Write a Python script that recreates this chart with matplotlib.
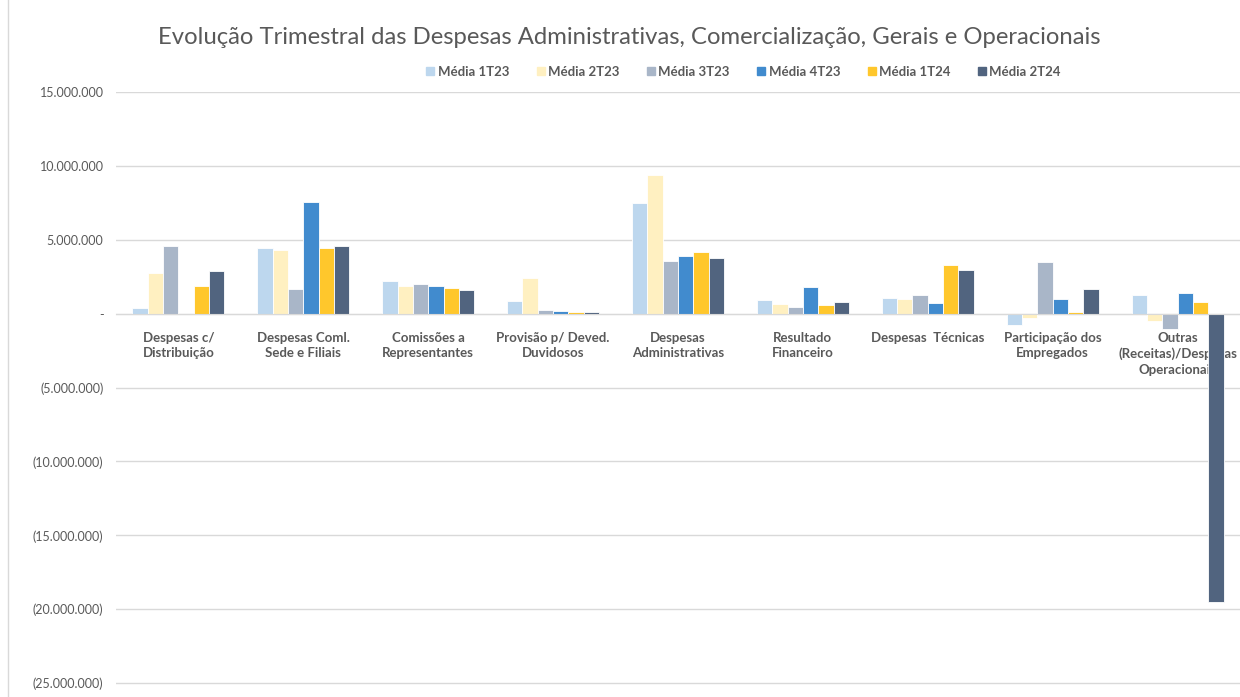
import matplotlib
matplotlib.use("Agg")
import matplotlib.pyplot as plt
import numpy as np
from matplotlib.ticker import FuncFormatter, MultipleLocator
from matplotlib.lines import Line2D

categories = [
    "Despesas c/\nDistribuição",
    "Despesas Coml.\nSede e Filiais",
    "Comissões a\nRepresentantes",
    "Provisão p/ Deved.\nDuvidosos",
    "Despesas\nAdministrativas",
    "Resultado\nFinanceiro",
    "Despesas  Técnicas",
    "Participação dos\nEmpregados",
    "Outras\n(Receitas)/Despesas\nOperacionais",
]
series_names = ["Média 1T23", "Média 2T23", "Média 3T23", "Média 4T23", "Média 1T24", "Média 2T24"]
media_1t23 = [0.38e6, 4.47e6, 2.20e6, 0.85e6, 7.48e6, 0.92e6, 1.06e6, -0.79e6, 1.26e6]
media_2t23 = [2.75e6, 4.33e6, 1.89e6, 2.41e6, 9.36e6, 0.65e6, 0.97e6, -0.27e6, -0.47e6]
media_3t23 = [4.55e6, 1.64e6, 2.00e6, 0.27e6, 3.59e6, 0.43e6, 1.26e6, 3.47e6, -1.06e6]
media_4t23 = [0.0, 7.58e6, 1.89e6, 0.20e6, 3.88e6, 1.78e6, 0.72e6, 0.97e6, 1.37e6]
media_1t24 = [1.85e6, 4.47e6, 1.71e6, 0.11e6, 4.17e6, 0.56e6, 3.29e6, 0.11e6, 0.79e6]
media_2t24 = [2.91e6, 4.55e6, 1.60e6, 0.09e6, 3.79e6, 0.81e6, 2.98e6, 1.67e6, -19.5e6]
series = [media_1t23, media_2t23, media_3t23, media_4t23, media_1t24, media_2t24]
colors = ["#BDD7EE", "#FFF0C1", "#A9B6C8", "#418BCE", "#FFC72C", "#51647F"]

plt.rcParams['font.family'] = ['Lato', 'DejaVu Sans']
fig = plt.figure(figsize=(12.4, 6.97), dpi=100)
W, H = 1240, 697
px_per_unit = (683 - 92) / 40e6
ybot = -25e6 - 2 / px_per_unit
ax = fig.add_axes([116 / W, 1 - 685 / H, (1240 - 116) / W, (685 - 92) / H])

n = len(series)
bw = 0.737 / n
x = np.arange(len(categories))
for i, (name, vals, c) in enumerate(zip(series_names, series, colors)):
    ax.bar(x + (i - (n - 1) / 2) * bw, vals, width=bw, color=c, edgecolor="white",
           linewidth=0.6, label=name, zorder=3)

ax.set_xlim(-0.5, len(categories) - 0.5)
ax.set_ylim(ybot, 15e6)
ax.yaxis.set_major_locator(MultipleLocator(5e6))


def fmt(v, pos):
    if abs(v) < 1:
        return "-"
    s = f"{abs(v):,.0f}".replace(",", ".")
    return f"({s})" if v < 0 else s


ax.yaxis.set_major_formatter(FuncFormatter(fmt))
ax.grid(axis="y", color="#D9D9D9", linewidth=1, zorder=0)
for s in ["top", "right", "left"]:
    ax.spines[s].set_visible(False)
ax.spines["bottom"].set_position(("data", 0))
ax.spines["bottom"].set_color("#D9D9D9")
ax.spines["bottom"].set_zorder(4)
ax.tick_params(axis="y", length=0, pad=9, labelsize=9, labelcolor="#595959")
ax.tick_params(axis="x", length=0, pad=13, labelsize=9.5, labelcolor="#595959")
ax.set_xticks(x)
ax.set_xticklabels(categories, fontweight="bold", linespacing=1.35)

fig.text(629 / W, 1 - 37 / H, "Evolução Trimestral das Despesas Administrativas, Comercialização, Gerais e Operacionais",
         ha="center", va="center", fontsize=17.2, color="#595959")

handles = [Line2D([0], [0], marker="s", linestyle="none", markersize=6, markerfacecolor=c,
                  markeredgecolor=c) for c in colors]
fig.legend(handles, series_names, loc="center", bbox_to_anchor=(743 / W, 1 - 72 / H), ncol=6,
           frameon=False, prop={"weight": "bold", "size": 9.5}, labelcolor="#595959",
           handletextpad=0.15, columnspacing=2.0, handlelength=0.8)

fig.add_artist(Line2D([8 / W, 8 / W], [0, 1], transform=fig.transFigure, color="#D9D9D9", linewidth=1))

fig.savefig("out.png", dpi=100, facecolor="white")
